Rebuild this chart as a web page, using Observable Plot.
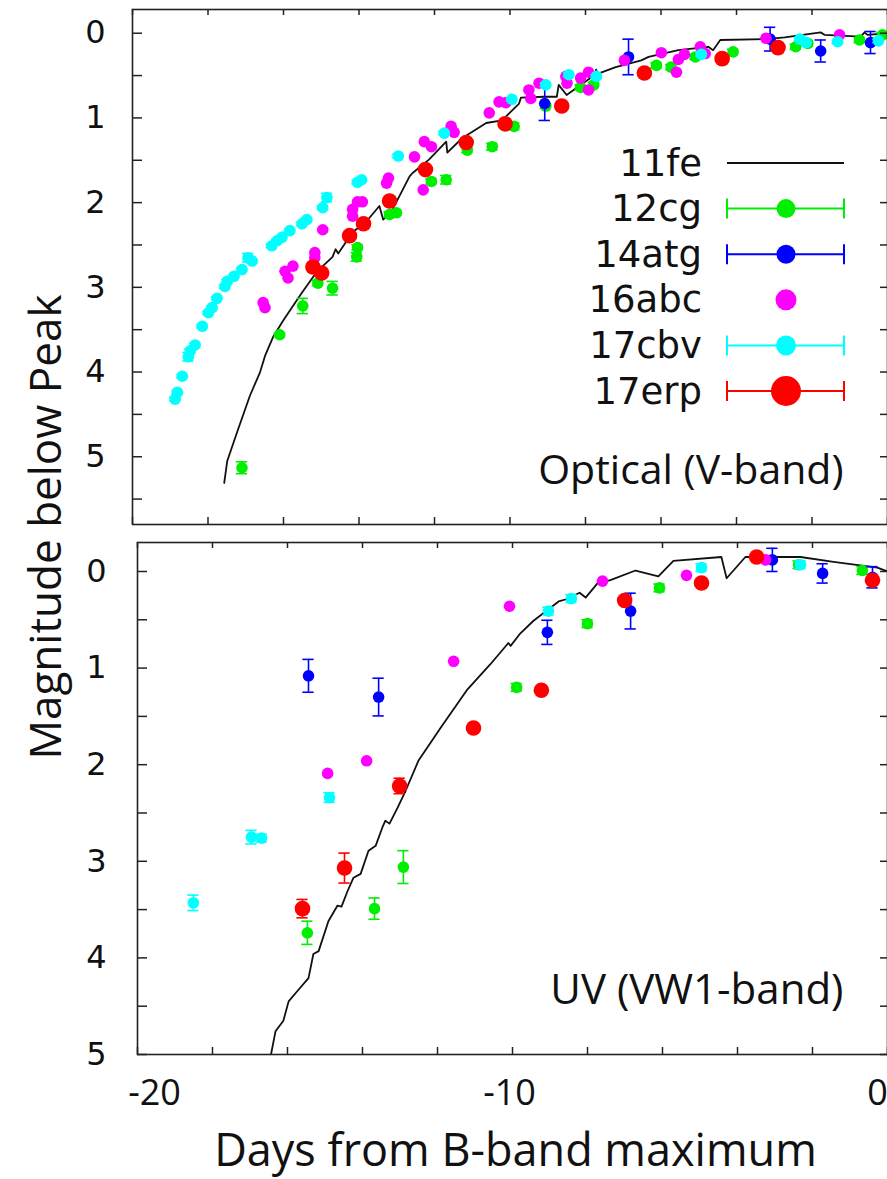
<!DOCTYPE html>
<html><head><meta charset="utf-8">
<script src="https://cdn.jsdelivr.net/npm/d3@7"></script>
<script src="https://cdn.jsdelivr.net/npm/@observablehq/plot@0.6"></script>
<style>
html,body{margin:0;padding:0;background:#fff;}
#wrap{position:relative;width:887px;height:1179px;overflow:hidden;background:#fff;}
#top{position:absolute;left:0;top:0;}
#bot{position:absolute;left:0;top:533px;}
#over{position:absolute;left:0;top:0;pointer-events:none;}
</style></head><body>
<div id="wrap"><div id="top"></div><div id="bot"></div><svg id="over" width="887" height="1179"></svg></div>
<script>
// ---------- data (days from B max, magnitude below peak, error) ----------
const seriesNames = ["11fe", "12cg", "14atg", "16abc", "17cbv", "17erp"];
const seriesColors = ["#000000", "#00ee00", "#0000ff", "#ff00ff", "#00ffff", "#ff0000"];

const xTicks = [-20, -18, -16, -14, -12, -10, -8, -6, -4, -2, 0];
const xTickLabels = [-20, -10, 0];
const yTicks = [0, 0.5, 1, 1.5, 2, 2.5, 3, 3.5, 4, 4.5, 5, 5.5];
const yTickLabels = [0, 1, 2, 3, 4, 5];
const panelLabels = ["Optical (V-band)", "UV (VW1-band)"];
const xLabel = "Days from B-band maximum";
const yLabel = "Magnitude below Peak";

// SN 2011fe template, V band
const fe11_V_day = [-17.57,-17.49,-17.23,-16.89,-16.62,-16.49,-16.28,-16.02,-15.75,-15.49,-15.22,-14.96,-14.70,-14.62,-14.55,-14.17,-13.80,-13.46,-13.36,-13.11,-12.66,-12.58,-12.14,-11.69,-11.66,-11.27,-10.63,-10.21,-9.76,-9.71,-9.10,-8.76,-8.71,-8.50,-7.75,-7.72,-7.68,-7.20,-6.52,-6.33,-5.54,-4.75,-4.62,-4.43,-3.25,-2.72,-1.77,-1.66,-0.71,-0.61,-0.53,0];
const fe11_V_mag = [5.31,5.05,4.71,4.28,4.00,3.81,3.59,3.40,3.22,3.05,2.88,2.75,2.64,2.55,2.60,2.35,2.22,2.04,2.20,2.08,1.69,1.65,1.49,1.28,1.41,1.24,1.06,1.03,0.83,0.76,0.75,0.75,0.61,0.73,0.49,0.43,0.48,0.40,0.32,0.28,0.20,0.16,0.20,0.08,0.07,0.05,-0.01,0.02,0.04,-0.01,0.02,0.00];
// SN 2011fe template, UVW1 band
const fe11_UV_day = [-16.50,-16.32,-16.11,-15.97,-15.73,-15.44,-15.31,-15.17,-14.91,-14.67,-14.56,-14.40,-14.24,-14.05,-13.84,-13.65,-13.47,-13.39,-13.28,-13.07,-12.85,-12.51,-11.92,-11.20,-10.59,-10.11,-10.05,-9.79,-9.44,-8.77,-8.59,-8.21,-8.05,-7.73,-7.39,-6.72,-6.11,-5.71,-4.43,-4.29,-3.79,-2.32,-1.44,-0.27,0];
const fe11_UV_mag = [5.12,4.76,4.65,4.45,4.34,4.21,3.96,3.93,3.62,3.46,3.47,3.31,3.17,3.13,2.89,2.84,2.65,2.58,2.61,2.45,2.27,1.96,1.62,1.22,0.96,0.74,0.77,0.64,0.51,0.31,0.29,0.22,0.27,0.12,0.09,-0.01,0.05,-0.11,-0.15,0.07,-0.15,-0.15,-0.10,-0.04,0.00];

// SN 2012cg
const cg12_V_day = [-17.10,-16.10,-15.49,-15.09,-14.70,-14.06,-14.04,-13.19,-13.01,-12.08,-11.69,-11.13,-10.47,-9.89,-9.05,-8.13,-7.78,-6.12,-5.73,-5.09,-4.09,-2.43,-2.11,-0.74,-0.13];
const cg12_V_mag = [5.13,3.56,3.22,2.95,3.01,2.64,2.53,2.14,2.12,1.75,1.73,1.38,1.34,1.10,0.86,0.64,0.61,0.38,0.40,0.28,0.22,0.16,0.12,0.08,0.02];
const cg12_V_err = [0.07,0.02,0.09,0.03,0.08,0.05,0.03,0.03,0.03,0.03,0.05,0.03,0.04,0.04,0.03,0.03,0.03,0.03,0.03,0.03,0.03,0.03,0.03,0.03,0.03];
const cg12_UV_day = [-15.47,-13.68,-12.91,-9.89,-8.00,-6.08,-2.37,-0.67];
const cg12_UV_mag = [3.74,3.49,3.06,1.20,0.54,0.17,-0.07,-0.01];
const cg12_UV_err = [0.12,0.11,0.17,0.04,0.04,0.04,0.04,0.04];

// SN 2014atg
const atg14_V_day = [-9.08,-6.86,-3.11,-1.77,-0.45];
const atg14_V_mag = [0.83,0.28,0.07,0.21,0.11];
const atg14_V_err = [0.20,0.21,0.14,0.13,0.13];
const atg14_UV_day = [-15.44,-13.57,-9.07,-6.85,-3.07,-1.73,-0.40];
const atg14_UV_mag = [1.08,1.30,0.63,0.41,-0.12,0.02,0.06];
const atg14_UV_err = [0.17,0.195,0.125,0.185,0.12,0.10,0.11];

// SN 2016abc (no error bars)
const abc16_V_day = [-16.54,-16.49,-15.96,-15.88,-15.75,-15.17,-15.17,-14.96,-14.17,-14.17,-14.04,-13.91,-13.27,-13.22,-12.53,-12.30,-12.27,-12.08,-11.56,-11.48,-10.55,-10.29,-10.11,-9.50,-9.45,-9.23,-8.52,-8.49,-8.13,-7.92,-7.92,-6.97,-5.99,-5.59,-5.54,-5.38,-4.96,-4.83,-3.22,-1.27];
const abc16_V_mag = [3.18,3.24,2.81,2.89,2.75,2.59,2.65,2.32,2.08,2.16,1.99,1.99,1.77,1.71,1.46,1.85,1.28,1.34,1.10,1.17,0.94,0.81,0.82,0.67,0.77,0.59,0.51,0.59,0.53,0.67,0.46,0.32,0.23,0.46,0.31,0.25,0.16,0.24,0.06,0.02];
const abc16_UV_day = [-14.93,-13.89,-11.57,-10.08,-7.60,-5.36,-3.25];
const abc16_UV_mag = [2.09,1.96,0.93,0.36,0.10,0.04,-0.12];

// SN 2017cbv
const cbv17_V_day = [-18.87,-18.81,-18.68,-18.52,-18.47,-18.34,-18.15,-17.99,-17.89,-17.76,-17.55,-17.49,-17.31,-17.10,-16.94,-16.83,-16.31,-16.17,-16.04,-15.83,-15.51,-15.38,-14.96,-14.85,-14.04,-13.93,-12.96,-11.74,-9.95,-9.05,-8.44,-7.71,-4.93,-2.32,-2.16,-1.32,-0.24];
const cbv17_V_mag = [4.32,4.24,4.05,3.82,3.75,3.68,3.46,3.30,3.24,3.13,2.99,2.93,2.87,2.79,2.65,2.69,2.51,2.45,2.41,2.33,2.25,2.20,2.06,1.94,1.76,1.73,1.45,1.18,0.78,0.61,0.49,0.51,0.25,0.07,0.11,0.10,0.09];
const cbv17_V_err = [0.02,0.02,0.02,0.05,0.02,0.02,0.02,0.02,0.02,0.02,0.02,0.02,0.02,0.02,0.05,0.02,0.02,0.02,0.02,0.02,0.02,0.02,0.02,0.05,0.02,0.02,0.02,0.02,0.02,0.02,0.02,0.02,0.02,0.02,0.02,0.02,0.02];
const cbv17_UV_day = [-18.51,-16.96,-16.69,-14.88,-9.04,-8.43,-4.96,-2.32];
const cbv17_UV_mag = [3.43,2.75,2.76,2.34,0.41,0.28,-0.04,-0.07];
const cbv17_UV_err = [0.08,0.07,0.04,0.05,0.04,0.04,0.04,0.04];

// SN 2017erp
const erp17_V_day = [-15.22,-14.99,-14.25,-13.88,-13.19,-12.24,-11.16,-10.13,-8.63,-6.44,-4.38,-2.90];
const erp17_V_mag = [2.76,2.83,2.39,2.25,1.98,1.61,1.29,1.07,0.86,0.47,0.30,0.17];
const erp17_V_err = [0.03,0.03,0.03,0.03,0.03,0.03,0.03,0.03,0.03,0.03,0.03,0.03];
const erp17_UV_day = [-15.60,-14.48,-13.01,-11.04,-9.23,-7.01,-4.96,-3.49,-0.40];
const erp17_UV_mag = [3.49,3.07,2.22,1.62,1.23,0.30,0.12,-0.15,0.09];
const erp17_UV_err = [0.095,0.155,0.08,0.03,0.03,0.03,0.03,0.03,0.03];

// ---------- helpers ----------
const zip = (days, mags, errs) => days.map((d, i) => ({day: d, mag: mags[i], err: errs ? errs[i] : 0}));
const CAP = 0.15; // half width of error caps (days)
const dotR = [0, 5.8, 5.8, 5.8, 5.8, 7.8];
const fmt = d => String(d);

function panel(cfg) {
  const W = 887 - cfg.ml;
  const H = cfg.height - cfg.mt - cfg.mb;
  const marks = [];
  marks.push(Plot.line(cfg.tmpl, {x: "day", y: "mag", stroke: "#111", strokeWidth: 1.8, clip: true}));
  cfg.series.forEach((data, k) => {
    const i = k + 1;
    const color = seriesColors[i];
    const e = data.filter(d => d.err > 0);
    if (e.length) {
      marks.push(Plot.ruleX(e, {x: "day", y1: d => d.mag - d.err, y2: d => d.mag + d.err, stroke: color, strokeWidth: 1.6}));
      marks.push(Plot.ruleY(e, {y: d => d.mag - d.err, x1: d => d.day - CAP, x2: d => d.day + CAP, stroke: color, strokeWidth: 1.6}));
      marks.push(Plot.ruleY(e, {y: d => d.mag + d.err, x1: d => d.day - CAP, x2: d => d.day + CAP, stroke: color, strokeWidth: 1.6}));
    }
    marks.push(Plot.dot(data, {x: "day", y: "mag", r: dotR[i], fill: color}));
  });
  // inward ticks, mirrored on all sides
  const yt = yTicks.filter(t => t <= cfg.ydom[1]);
  marks.push(Plot.tickY(yt, {y: d => d, insetRight: W - 10, stroke: "#222", strokeWidth: 1.5}));
  marks.push(Plot.tickY(yt, {y: d => d, insetLeft: W - 7, stroke: "#222", strokeWidth: 1.5}));
  marks.push(Plot.tickX(xTicks, {x: d => d, insetBottom: H - 6, stroke: "#222", strokeWidth: 1.5}));
  marks.push(Plot.tickX(xTicks, {x: d => d, insetTop: H - 7, stroke: "#222", strokeWidth: 1.5}));
  marks.push(Plot.frame({stroke: "#222", strokeWidth: 1.6}));
  marks.push(Plot.axisY({ticks: yTickLabels, tickFormat: fmt, tickSize: 0, tickPadding: cfg.ypad, label: null,
    fontSize: 32, fontFamily: "DejaVu Sans", fill: "#111"}));
  marks.push(Plot.text([cfg.label], {frameAnchor: "bottom-right", dx: -44, dy: cfg.labelDy,
    textAnchor: "end", lineAnchor: "middle", fontSize: cfg.labelSize, fontFamily: "Open Sans", fill: "#111"}));
  if (cfg.xaxis) {
    const offs = [17, -3, -10];
    xTickLabels.forEach((t, j) => {
      marks.push(Plot.axisX({ticks: [t], tickFormat: fmt, tickSize: 0, tickPadding: 25, dx: offs[j], label: null,
        fontSize: 36, fontFamily: "Open Sans", fill: "#111"}));
    });
    marks.push(Plot.text([xLabel], {frameAnchor: "bottom", dy: 97, dx: 3, lineAnchor: "middle",
      fontSize: 45, fontFamily: "Open Sans", fill: "#111"}));
  }
  return Plot.plot({
    width: 887, height: cfg.height,
    marginTop: cfg.mt, marginBottom: cfg.mb, marginLeft: cfg.ml, marginRight: 0,
    x: {domain: [-20, 0], axis: cfg.xaxis ? undefined : null},
    y: {domain: cfg.ydom, reverse: true},
    style: {background: "transparent", overflow: "visible", fontFamily: "Open Sans"},
    marks
  });
}

const topPlot = panel({
  height: 533, mt: 9, mb: 9, ml: 132, ydom: [-0.28, 5.8], ypad: 27,
  tmpl: zip(fe11_V_day, fe11_V_mag),
  series: [zip(cg12_V_day, cg12_V_mag, cg12_V_err), zip(atg14_V_day, atg14_V_mag, atg14_V_err),
           zip(abc16_V_day, abc16_V_mag), zip(cbv17_V_day, cbv17_V_mag, cbv17_V_err),
           zip(erp17_V_day, erp17_V_mag, erp17_V_err)],
  label: panelLabels[0], labelDy: -54, labelSize: 41, xaxis: false
});
document.getElementById("top").appendChild(topPlot);

const botPlot = panel({
  height: 646, mt: 9, mb: 125, ml: 137, ydom: [-0.3, 5.0], ypad: 31,
  tmpl: zip(fe11_UV_day, fe11_UV_mag),
  series: [zip(cg12_UV_day, cg12_UV_mag, cg12_UV_err), zip(atg14_UV_day, atg14_UV_mag, atg14_UV_err),
           zip(abc16_UV_day, abc16_UV_mag), zip(cbv17_UV_day, cbv17_UV_mag, cbv17_UV_err),
           zip(erp17_UV_day, erp17_UV_mag, erp17_UV_err)],
  label: panelLabels[1], labelDy: -64, labelSize: 42, xaxis: true
});
document.getElementById("bot").appendChild(botPlot);

// ---------- overlay: y label and legend ----------
const ov = d3.select("#over");
ov.append("text")
  .attr("transform", "translate(44,527) rotate(-90)")
  .attr("text-anchor", "middle").attr("dominant-baseline", "central")
  .style("font-family", "'Open Sans'").style("font-size", "44px").attr("fill", "#111")
  .text(yLabel);

const legR = [0, 9.5, 9.5, 10.5, 10, 15];
const legHasBar = [false, true, true, false, true, true];
seriesNames.forEach((name, i) => {
  const y = 163 + i * 45.6;
  const g = ov.append("g");
  g.append("text").attr("x", 702).attr("y", y).attr("text-anchor", "end").attr("dominant-baseline", "central")
    .style("font-family", "'DejaVu Sans'").style("font-size", "37px").attr("fill", "#111").text(name);
  const c = seriesColors[i];
  if (i === 0) {
    g.append("line").attr("x1", 727).attr("x2", 844).attr("y1", y).attr("y2", y).attr("stroke", "#111").attr("stroke-width", 2);
    return;
  }
  if (legHasBar[i]) {
    g.append("line").attr("x1", 727).attr("x2", 844).attr("y1", y).attr("y2", y).attr("stroke", c).attr("stroke-width", 2);
    [727, 844].forEach(x => g.append("line").attr("x1", x).attr("x2", x).attr("y1", y - 10).attr("y2", y + 10).attr("stroke", c).attr("stroke-width", 2));
  }
  g.append("circle").attr("cx", 786).attr("cy", y).attr("r", legR[i]).attr("fill", c);
});
</script>
</body></html>
